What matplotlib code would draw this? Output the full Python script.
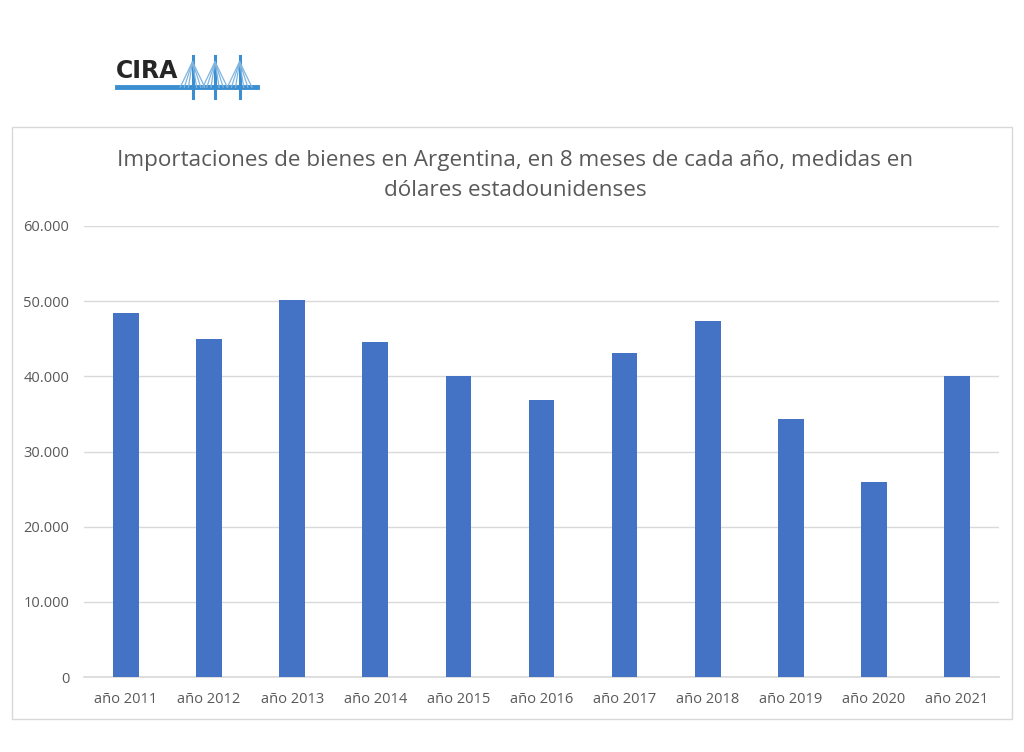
import matplotlib
matplotlib.use("Agg")
import matplotlib.pyplot as plt
from matplotlib.ticker import FuncFormatter
from matplotlib.patches import Rectangle

# Datos: importaciones en 8 meses de cada año (millones de USD)
anios = ["año 2011", "año 2012", "año 2013", "año 2014", "año 2015", "año 2016",
         "año 2017", "año 2018", "año 2019", "año 2020", "año 2021"]
valores = [48400, 44900, 50100, 44600, 40000, 36900, 43100, 47300, 34300, 26000, 40000]

plt.rcParams["font.family"] = ["Open Sans", "DejaVu Sans"]

fig = plt.figure(figsize=(10.24, 7.52), dpi=100)

# Marco del gráfico
fig.patches.append(Rectangle((0.0117, 0.0439), 0.9766, 0.787, transform=fig.transFigure,
                             fill=False, edgecolor="#d9d9d9", linewidth=1))

ax = fig.add_axes([0.0825, 0.0997, 0.8926, 0.5998])
ax.bar(range(len(anios)), valores, width=0.31, color="#4472C4", zorder=3)
ax.set_xlim(-0.5, len(anios) - 0.5)
ax.set_ylim(0, 60000)
ax.set_yticks(range(0, 60001, 10000))
ax.yaxis.set_major_formatter(FuncFormatter(lambda v, p: "{:,.0f}".format(v).replace(",", ".")))
ax.set_xticks(range(len(anios)))
ax.set_xticklabels(anios)
ax.grid(axis="y", color="#d9d9d9", linewidth=1, zorder=0)
ax.axhline(0, color="#d9d9d9", linewidth=1.2, zorder=2, clip_on=False)
for s in ax.spines.values():
    s.set_visible(False)
ax.tick_params(length=0, labelsize=10.5, colors="#595959")
ax.tick_params(axis="y", pad=11)
ax.tick_params(axis="x", pad=11)

fig.text(0.503, 0.7665, "Importaciones de bienes en Argentina, en 8 meses de cada año, medidas en\ndólares estadounidenses",
         ha="center", va="center", fontsize=16.2, color="#595959", linespacing=1.6)

# Logo CIRA
fig.text(0.113, 0.906, "CIRA", fontsize=17, fontweight="bold", color="#262626",
         family="DejaVu Sans", va="center")
fig.add_artist(plt.Line2D([0.114, 0.251], [0.884, 0.884], transform=fig.transFigure,
                          color="#3b8fd0", linewidth=3.5))
for cx in [0.188, 0.210, 0.234]:
    fig.add_artist(plt.Line2D([cx, cx], [0.870, 0.925], transform=fig.transFigure,
                              color="#3b8fd0", linewidth=2.2))
    for d in [0.004, 0.008, 0.012]:
        fig.add_artist(plt.Line2D([cx - d, cx, cx + d], [0.884, 0.918, 0.884],
                                  transform=fig.transFigure, color="#7fb5e0", linewidth=0.9))

fig.savefig("out.png", dpi=100)
